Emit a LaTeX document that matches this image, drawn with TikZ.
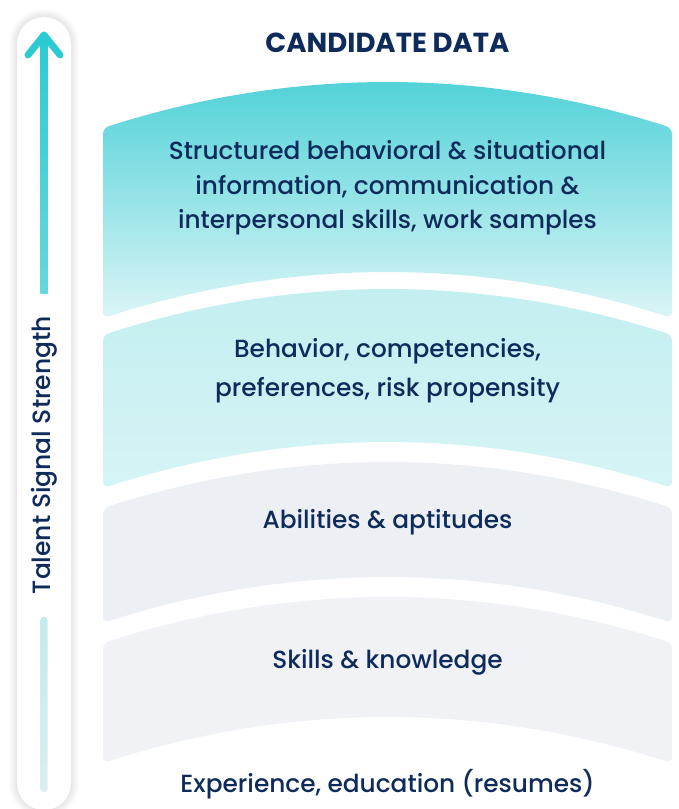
\documentclass[tikz,border=0pt]{standalone}
\usepackage{fontspec}
\setmainfont{Poppins Medium}[BoldFont=Poppins Bold]
\usetikzlibrary{positioning}

\definecolor{navy}{HTML}{0E2B5B}
\definecolor{tealtop}{HTML}{4AD0D7}
\definecolor{tealfoot}{HTML}{DBF5F6}
\definecolor{aquatop}{HTML}{C2EEF0}
\definecolor{aquafoot}{HTML}{D6F4F5}
\definecolor{mistband}{HTML}{ECF0F4}
\definecolor{paleband}{HTML}{F0F2F6}
\definecolor{arrowteal}{HTML}{2CCBD1}
\definecolor{arrowfade}{HTML}{66D7DC}
\definecolor{bartop}{HTML}{C3EBEE}
\definecolor{barfoot}{HTML}{DCEEF1}

% one curved band: top edge y, bottom edge y (pixels, downwards)
\newcommand{\bandpath}[2]{(103,-#1) .. controls (292.7,-#1+60.7) and (482.3,-#1+60.7) .. (672,-#1)
  -- (672,-#2) .. controls (482.3,-#2+60.7) and (292.7,-#2+60.7) .. (103,-#2) -- cycle}

\tikzset{
  layer text/.style={text=navy, align=center, font=\fontsize{24.8}{34.5}\selectfont},
  band/.style={rounded corners=6pt}
}

\begin{document}
\begin{tikzpicture}[x=1pt, y=1pt]
  \useasboundingbox (0,0) rectangle (678,-809);

  % side rail with its soft shadow
  \foreach \s in {1,...,8}
    \fill[black, opacity=0.012, rounded corners=27pt+\s pt]
      (17-\s,-17+\s) rectangle (71+\s,-810-\s);
  \fill[white, rounded corners=27pt] (17,-17) rectangle (71,-810);

  % arrow up the rail
  \shade[top color=arrowteal, bottom color=arrowfade]
    (40.5,-293) rectangle (47.5,-38);
  \draw[arrowteal, line width=7pt, line cap=round, line join=round]
    (28,-55) -- (44,-35) -- (60,-55);
  \shade[top color=bartop, bottom color=barfoot, rounded corners=3pt]
    (40.5,-617) rectangle (47.5,-792);
  \node (strength) [rotate=90, text=navy, font=\fontsize{25}{30}\selectfont]
    at (44,-455) {Talent Signal Strength};

  % the four bands
  \shade[band, top color=tealtop, bottom color=tealfoot] \bandpath{128}{318};
  \shade[band, top color=aquatop, bottom color=aquafoot] \bandpath{335}{488};
  \fill[band, mistband] \bandpath{508}{623};
  \fill[band, paleband] \bandpath{643}{763};

  \node (title) [text=navy, font=\fontsize{27.5}{32}\bfseries\selectfont]
    at (387.5,-43) {CANDIDATE DATA};
  \node (structured) [layer text] at (387.5,-188)
    {Structured behavioral \& situational\\information, communication \&\\interpersonal skills, work samples};
  \node (behavior) [layer text, font=\fontsize{24.8}{39}\selectfont] at (387.5,-371)
    {Behavior, competencies,\\preferences, risk propensity};
  \node (abilities) [layer text] at (387.5,-522) {Abilities \& aptitudes};
  \node (skills) [layer text] at (387.5,-662) {Skills \& knowledge};
  \node (experience) [layer text] at (387.5,-784) {Experience, education (resumes)};
\end{tikzpicture}
\end{document}
